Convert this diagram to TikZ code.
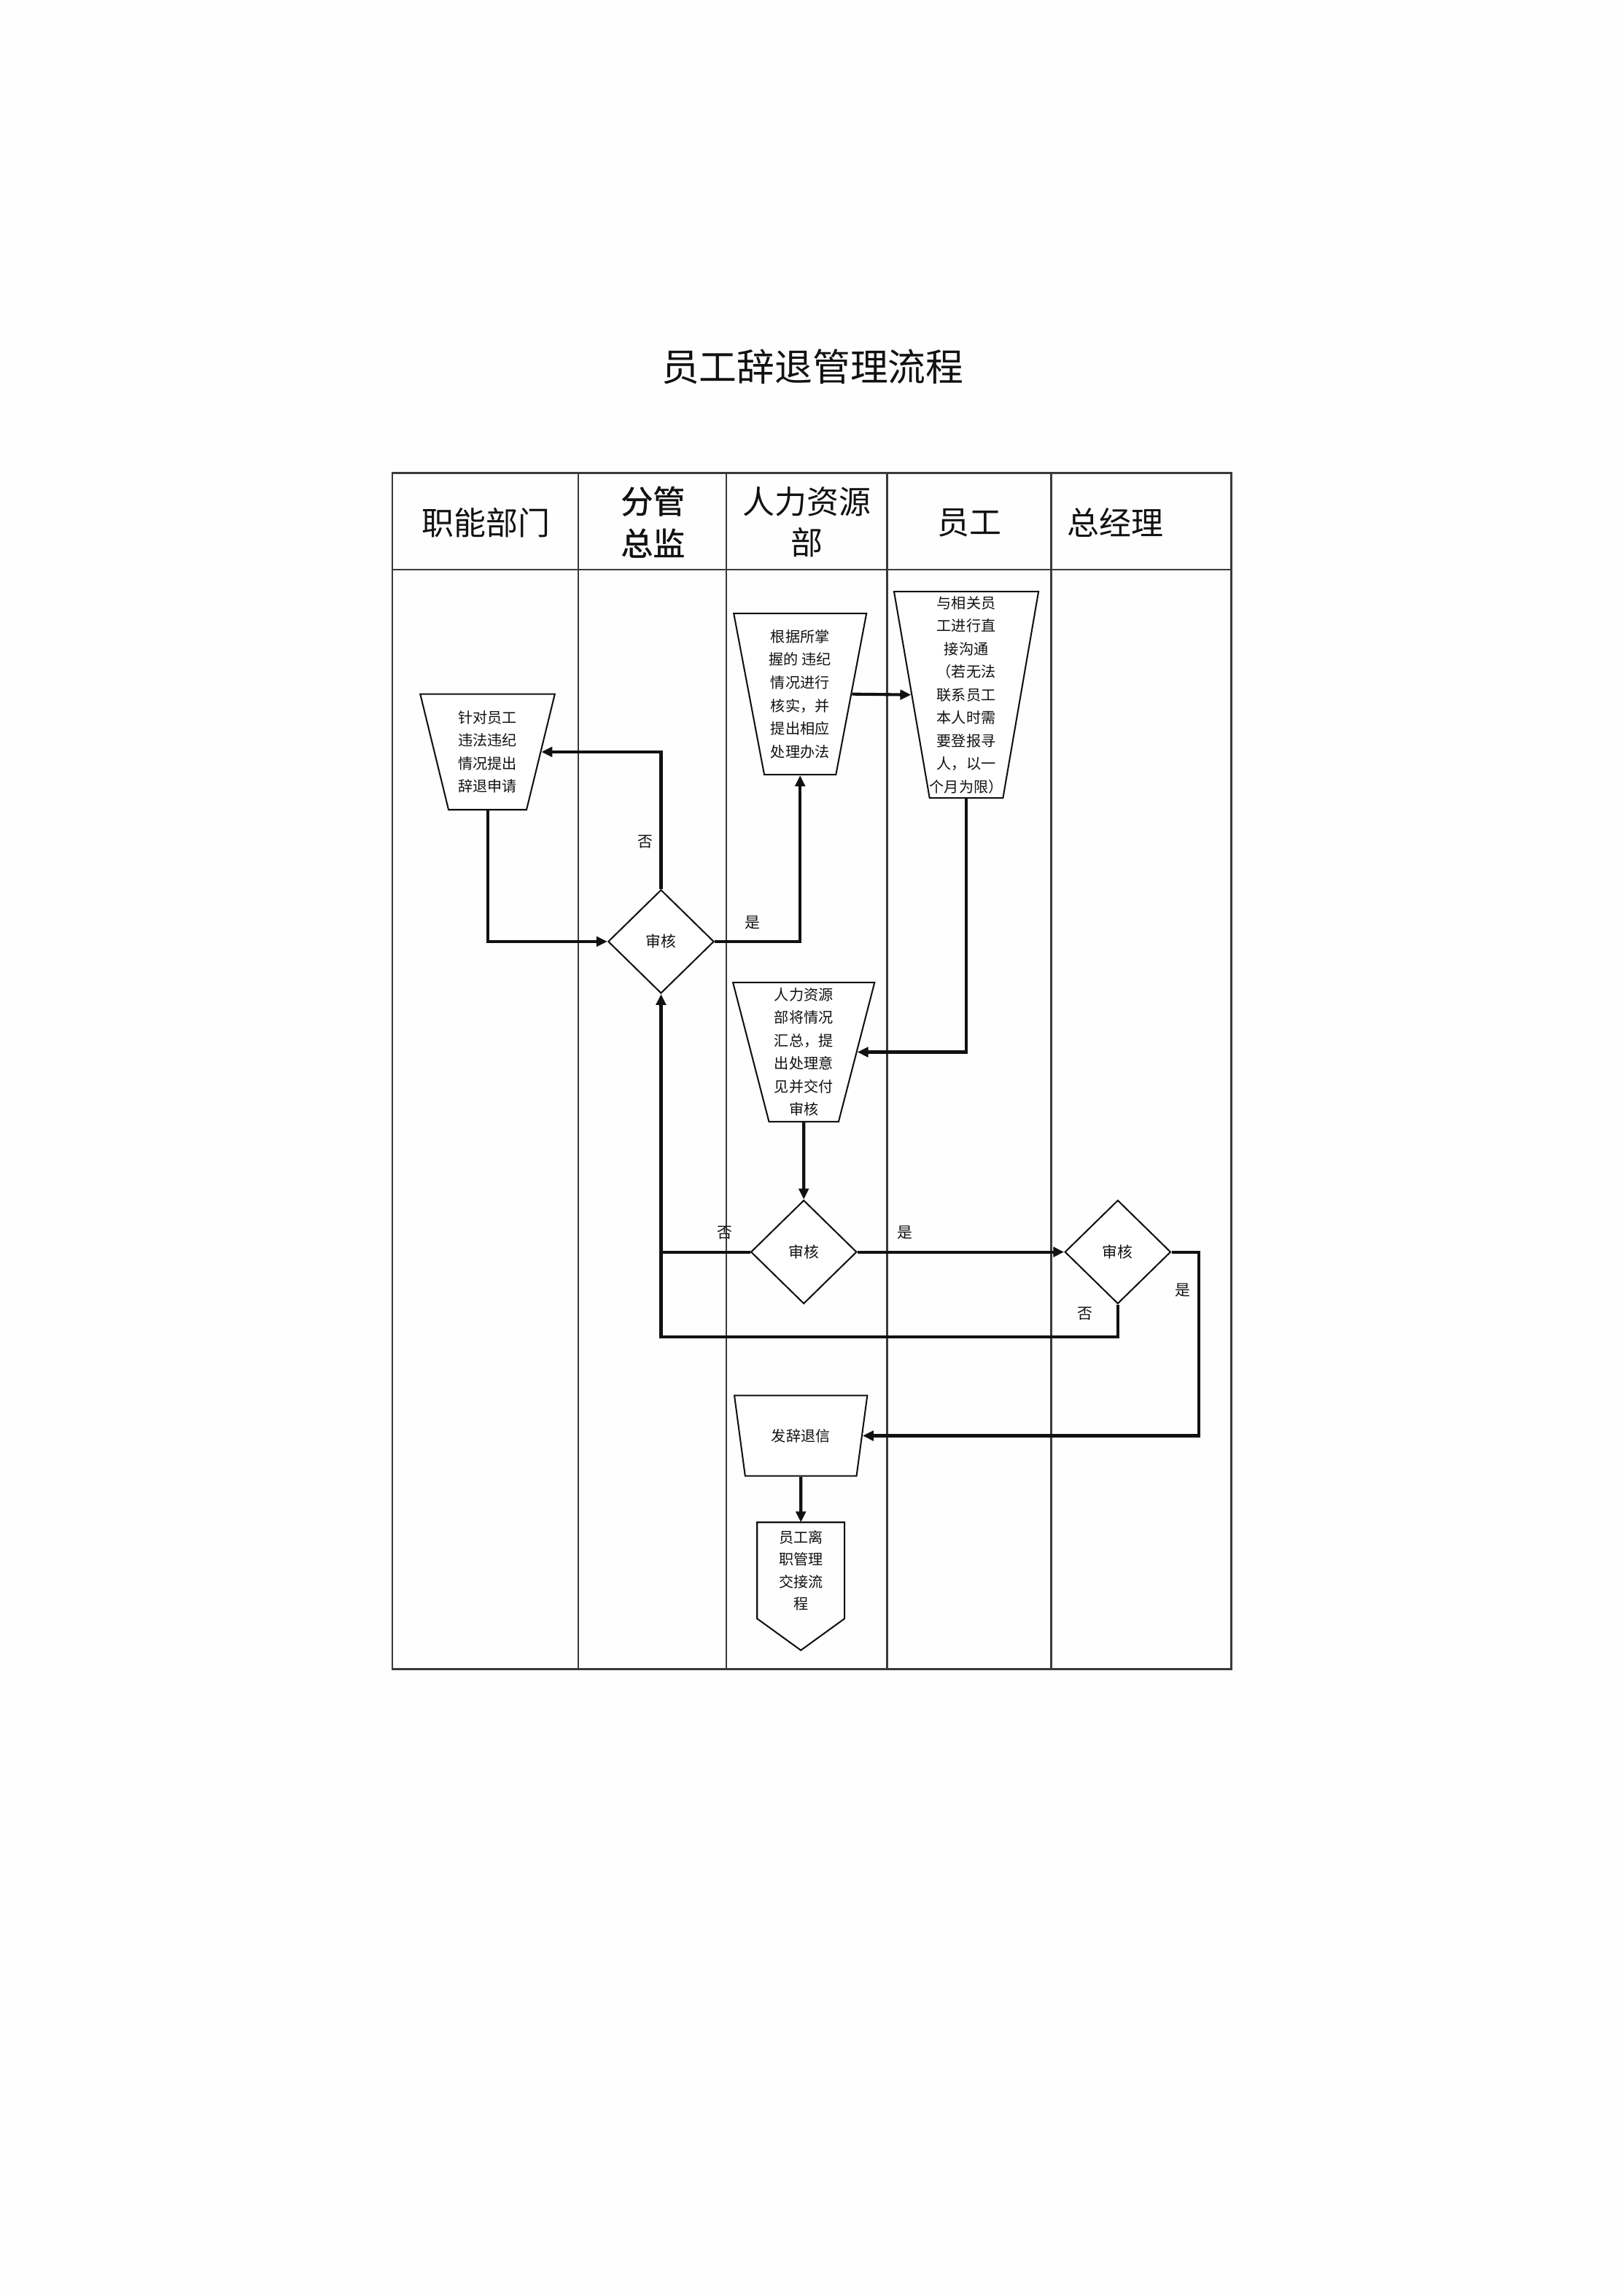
\documentclass[tikz,border=0pt]{standalone}
\usepackage{fontspec}
\setmainfont{Noto Sans CJK SC}
\newfontfamily\hdbold[FakeBold=1]{Noto Sans CJK SC}
\usepackage{tikz}
\usetikzlibrary{shapes.geometric,arrows.meta,positioning,calc}
\definecolor{ink}{HTML}{111111}
\definecolor{rule}{HTML}{3A3A3A}
\definecolor{paper}{HTML}{FEFEFE}
\tikzset{
  trap/.style={trapezium,shape border rotate=180,trapezium stretches=true,
               draw=ink,line width=0.55pt,fill=white,inner sep=0pt,
               font=\fontsize{5.4pt}{8.46pt}\selectfont,align=center,text=ink},
  dec/.style={diamond,draw=ink,line width=0.55pt,fill=white,inner sep=0pt,
              minimum width=1.37cm,minimum height=1.34cm,
              font=\fontsize{5.6pt}{7pt}\selectfont,text=ink},
  offp/.style={rectangle,inner sep=0pt,minimum width=1.117cm,minimum height=1.231cm,
               font=\fontsize{5.4pt}{8.2pt}\selectfont,align=center,text=ink},
  hd/.style={font=\fontsize{11.8pt}{15pt}\selectfont,align=center,text=ink},
  yn/.style={font=\fontsize{5.6pt}{7pt}\selectfont,text=ink,inner sep=0pt},
  arr/.style={-{Triangle[length=4pt,width=3.6pt]},line width=1.1pt,color=ink},
  lnk/.style={line width=1.1pt,color=ink},
  grid/.style={line width=0.7pt,color=rule},
}
\begin{document}
\begin{tikzpicture}[x=0.018936cm,y=-0.018936cm]
  \fill[paper] (0,0) rectangle (1109,1568);
  \useasboundingbox (0,0) rectangle (1109,1568);

  \node[font=\fontsize{13.9pt}{16pt}\selectfont,text=ink] (title) at (555,250.5) {员工辞退管理流程};

  % swimlanes
  \draw[grid] (268,323) rectangle (841,1140);
  \draw[grid] (268,389) -- (841,389);
  \foreach \x in {395,496,606,718}
    \draw[grid] (\x,323) -- (\x,1140);

  \node[hd] (h1) at (332,357) {职能部门};
  \node[hd,font=\fontsize{11.8pt}{15.5pt}\hdbold] (h2) at (446,356.5) {分管\\总监};
  \node[hd] (h3) at (551,356.5) {人力资源\\部};
  \node[hd] (h4) at (662,357) {员工};
  \node[hd] (h5) at (762,357) {总经理};

  \node[trap,minimum width=1.742cm,minimum height=1.496cm,trapezium angle=75.5]
    (req) at (333,513.5) {针对员工\\违法违纪\\情况提出\\辞退申请};
  \node[trap,minimum width=1.723cm,minimum height=2.083cm,trapezium angle=78.4]
    (verify) at (546.5,474) {根据所掌\\握的 违纪\\情况进行\\核实，并\\提出相应\\处理办法};
  \node[trap,minimum width=1.856cm,minimum height=2.670cm,trapezium angle=79.8]
    (talk) at (660,474.5) {与相关员\\工进行直\\接沟通\\（若无法\\联系员工\\本人时需\\要登报寻\\人，以一\\个月为限）};
  \node[trap,minimum width=1.837cm,minimum height=1.799cm,trapezium angle=76.7]
    (sum) at (549,718.5) {人力资源\\部将情况\\汇总，提\\出处理意\\见并交付\\审核};
  \node[trap,minimum width=1.723cm,minimum height=1.041cm,trapezium angle=67.3]
    (letter) at (547,980.5) {发辞退信};

  \node[dec] (chk1) at (451.5,643) {审核};
  \node[dec] (chk2) at (549,855) {审核};
  \node[dec] (chk3) at (763.5,855) {审核};

  \node[offp] (leave) at (547,1072.5) {员工离\\职管理\\交接流\\程};
  \draw[draw=ink,line width=0.55pt] (leave.north west) -- (leave.north east)
    -- (leave.south east) -- (547,1127) -- (leave.south west) -- cycle;

  \coordinate (j1) at (451.5,913);
  \coordinate (k1) at (819,855);

  \draw[arr] (req.south) |- (chk1.west);
  \draw[arr] (chk1.north) |- (req.east);
  \draw[arr] (chk1.east) -| (verify.south);
  \draw[arr] (verify.east) -- (talk.west);
  \draw[arr] (talk.south) |- (sum.east);
  \draw[arr] (sum.south) -- (chk2.north);
  \draw[arr] (chk2.west) -| (chk1.south);
  \draw[arr] (chk2.east) -- (chk3.west);
  \draw[lnk] (chk3.south) |- (j1) -- (j1 |- chk2.west);
  \draw[arr] (chk3.east) -- (k1) |- (letter.east);
  \draw[arr] (letter.south) -- (leave.north);

  \node[yn] (n1) at (441,575) {否};
  \node[yn] (y1) at (514,630) {是};
  \node[yn] (n2) at (495,842) {否};
  \node[yn] (y2) at (618,842) {是};
  \node[yn] (n3) at (741,897) {否};
  \node[yn] (y3) at (808,881) {是};
\end{tikzpicture}
\end{document}
